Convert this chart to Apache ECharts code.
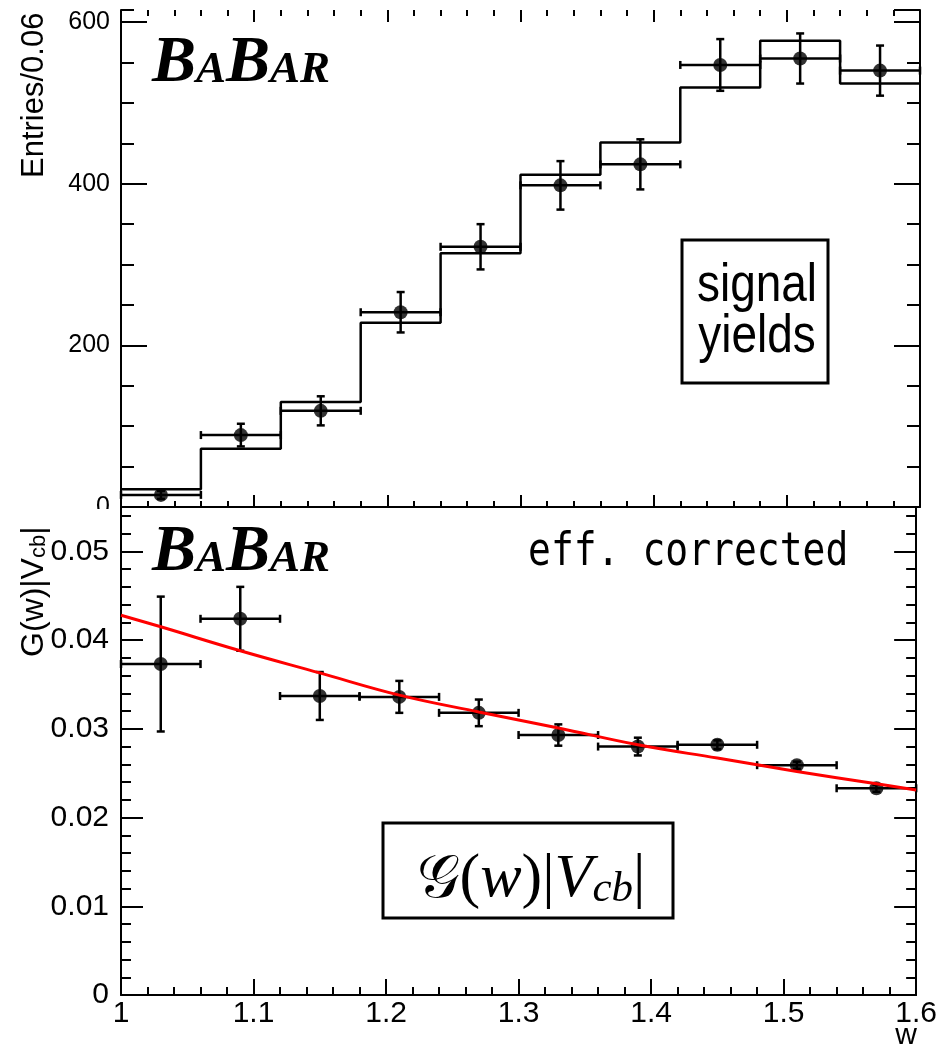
<!DOCTYPE html>
<html>
<head>
<meta charset="utf-8">
<script src="https://cdn.jsdelivr.net/npm/echarts@6/dist/echarts.min.js"></script>
<style>html,body{margin:0;padding:0;background:#fff}#c{width:940px;height:1047px}</style>
</head>
<body>
<div id="c"></div>
<script>
// ---- data ----
const binEdges   = [1.00, 1.06, 1.12, 1.18, 1.24, 1.30, 1.36, 1.42, 1.48, 1.54, 1.60];
const binCenters = [1.03, 1.09, 1.15, 1.21, 1.27, 1.33, 1.39, 1.45, 1.51, 1.57];
// top panel: signal yields (Entries/0.06)
const yieldValues = [15, 89, 119, 241, 322, 398, 424, 547, 555, 540];
const yieldErrors = [5, 14, 18, 25, 28, 30, 31, 32, 31, 31];
const yieldFit    = [22, 72, 130, 228, 314, 411, 451, 519, 577, 524];
// bottom panel: efficiency-corrected G(w)|Vcb|
const gValues = [0.0373, 0.0424, 0.0337, 0.0336, 0.0318, 0.0293, 0.0280, 0.0282, 0.0259, 0.0233];
const gErrors = [0.0076, 0.0036, 0.0027, 0.0018, 0.0015, 0.0012, 0.0010, 0.0005, 0.0004, 0.0004];
// red fit curve, read at several w values
const fitW = [1.00, 1.03, 1.09, 1.15, 1.21, 1.27, 1.33, 1.39, 1.45, 1.51, 1.57, 1.60];
const fitG = [0.0428, 0.0415, 0.0388, 0.0363, 0.0338, 0.0319, 0.0301, 0.0282, 0.0267, 0.0252, 0.0238, 0.0231];
// tick labels
const xTickLabels = ['1', '1.1', '1.2', '1.3', '1.4', '1.5', '1.6'];
const topYTickLabels = ['0', '200', '400', '600'];
const botYTickLabels = ['0', '0.01', '0.02', '0.03', '0.04', '0.05'];

// ---- helpers ----
const stepData = binEdges.map((e, i) => [e, yieldFit[Math.min(i, yieldFit.length - 1)]]);
const yieldBars = binCenters.map((c, i) => [c, yieldValues[i], yieldErrors[i], binEdges[i], binEdges[i + 1]]);
const gBars = binCenters.map((c, i) => [c, gValues[i], gErrors[i], binEdges[i], binEdges[i + 1]]);

function errorBarItem(params, api) {
  const x = api.value(0), y = api.value(1), e = api.value(2), lo = api.value(3), hi = api.value(4);
  const pT = api.coord([x, y + e]), pB = api.coord([x, y - e]);
  const pL = api.coord([lo, y]), pR = api.coord([hi, y]);
  const c = 4;
  const st = () => ({ stroke: '#000', lineWidth: 2.5 });
  return {
    type: 'group',
    children: [
      { type: 'line', shape: { x1: pT[0], y1: pT[1], x2: pB[0], y2: pB[1] }, style: st() },
      { type: 'line', shape: { x1: pL[0], y1: pL[1], x2: pR[0], y2: pR[1] }, style: st() },
      { type: 'line', shape: { x1: pT[0] - c, y1: pT[1], x2: pT[0] + c, y2: pT[1] }, style: st() },
      { type: 'line', shape: { x1: pB[0] - c, y1: pB[1], x2: pB[0] + c, y2: pB[1] }, style: st() },
      { type: 'line', shape: { x1: pL[0], y1: pL[1] - c, x2: pL[0], y2: pL[1] + c }, style: st() },
      { type: 'line', shape: { x1: pR[0], y1: pR[1] - c, x2: pR[0], y2: pR[1] + c }, style: st() }
    ]
  };
}

const FONT = 'Liberation Sans';
const lineBlack = { show: true, onZero: false, lineStyle: { color: '#000', width: 2 } };
const noLine = { show: false, onZero: false };

function xAx(grid, pos, major, minor, labels, showLine) {
  return {
    type: 'value', gridIndex: grid, position: pos, min: 1, max: 1.6, interval: 0.1,
    axisLine: showLine ? lineBlack : noLine,
    axisTick: { show: true, inside: true, length: major, lineStyle: { color: '#000', width: 2 } },
    minorTick: { show: true, splitNumber: 5, length: minor, lineStyle: { color: '#000', width: 2 } },
    splitLine: { show: false }, minorSplitLine: { show: false },
    axisLabel: labels ? {
      show: true, color: '#000', fontFamily: FONT, fontSize: 30, margin: 4,
      formatter: v => { const i = Math.round((v - 1) * 10); return Math.abs(v - (1 + i * 0.1)) < 1e-6 ? (xTickLabels[i] || '') : ''; }
    } : { show: false }
  };
}
function yAx(grid, pos, max, interval, tickLen, labels, showLine) {
  return {
    type: 'value', gridIndex: grid, position: pos, min: 0, max: max, interval: interval,
    axisLine: showLine ? lineBlack : noLine,
    axisTick: { show: true, inside: true, length: tickLen, lineStyle: { color: '#000', width: 2 } },
    splitLine: { show: false },
    axisLabel: labels ? Object.assign({ show: true, color: '#000', fontFamily: FONT, showMaxLabel: false }, labels) : { show: false }
  };
}

// BABAR logo: large B's, small-cap A / AR, aligned on a common baseline
function logo(x0, baseline) {
  const big = { fontFamily: 'Liberation Serif', fontWeight: 'bold', fontStyle: 'italic', fontSize: 66, fill: '#000', align: 'left', verticalAlign: 'middle' };
  const small = Object.assign({}, big, { fontSize: 45 });
  const yb = baseline - 0.29 * 66, ys = baseline - 0.29 * 45;
  return [
    { type: 'text', x: x0, y: yb, z: 100, style: Object.assign({ text: 'B' }, big) },
    { type: 'text', x: x0 + 44, y: ys, z: 100, style: Object.assign({ text: 'A' }, small) },
    { type: 'text', x: x0 + 74, y: yb, z: 100, style: Object.assign({ text: 'B' }, big) },
    { type: 'text', x: x0 + 118, y: ys, z: 100, style: Object.assign({ text: 'AR' }, small) }
  ];
}

const chart = echarts.init(document.getElementById('c'), null, { renderer: 'canvas' });
chart.setOption({
  animation: false,
  backgroundColor: '#fff',
  grid: [
    { left: 121, right: 20, top: 10, height: 497, show: false },
    { left: 121, right: 20, top: 507, height: 488, show: false }
  ],
  xAxis: [
    xAx(0, 'bottom', 12, 6, false, true),
    xAx(0, 'top', 12, 6, false, false),
    xAx(1, 'bottom', 16, 8, true, true)
  ],
  yAxis: [
    yAx(0, 'left', 615, 200, 26, {
      fontSize: 25, margin: 11,
      formatter: v => { const i = Math.round(v / 200); return Math.abs(v - i * 200) < 1e-6 ? (topYTickLabels[i] || '') : ''; }
    }, true),
    yAx(0, 'left', 615, 50, 13, null, false),
    yAx(0, 'right', 615, 200, 26, null, true),
    yAx(0, 'right', 615, 50, 13, null, false),
    yAx(1, 'left', 0.055, 0.01, 22, {
      fontSize: 30, margin: 12,
      formatter: v => { const i = Math.round(v / 0.01); return Math.abs(v - i * 0.01) < 1e-9 ? (botYTickLabels[i] || '') : ''; }
    }, true),
    yAx(1, 'left', 0.055, 0.002, 10, null, false),
    yAx(1, 'right', 0.055, 0.01, 22, null, true),
    yAx(1, 'right', 0.055, 0.002, 10, null, false)
  ],
  series: [
    {
      type: 'line', xAxisIndex: 0, yAxisIndex: 0, step: 'end', data: stepData,
      symbol: 'none', lineStyle: { color: '#000', width: 2.5 }, z: 2
    },
    {
      type: 'custom', xAxisIndex: 0, yAxisIndex: 0, data: yieldBars,
      encode: { x: 0, y: 1 }, renderItem: errorBarItem, z: 3
    },
    {
      type: 'scatter', xAxisIndex: 0, yAxisIndex: 0,
      data: binCenters.map((c, i) => [c, yieldValues[i]]),
      symbol: 'circle', symbolSize: 14, itemStyle: { color: '#000' }, z: 4
    },
    {
      type: 'custom', xAxisIndex: 2, yAxisIndex: 4, data: gBars,
      encode: { x: 0, y: 1 }, renderItem: errorBarItem, z: 3
    },
    {
      type: 'scatter', xAxisIndex: 2, yAxisIndex: 4,
      data: binCenters.map((c, i) => [c, gValues[i]]),
      symbol: 'circle', symbolSize: 14, itemStyle: { color: '#000' }, z: 4
    },
    {
      type: 'line', xAxisIndex: 2, yAxisIndex: 4, smooth: 0.4,
      data: fitW.map((w, i) => [w, fitG[i]]),
      symbol: 'none', lineStyle: { color: '#ff0000', width: 3 }, z: 5
    }
  ],
  graphic: [
    // hide lower half of the top panel's "0" label
    { type: 'rect', z: 100, shape: { x: 60, y: 509, width: 58, height: 18 }, style: { fill: '#fff' } },
    // BABAR logos
    ...logo(152, 83),
    ...logo(152, 572),
    // eff. corrected
    {
      type: 'text', x: 528, y: 553, scaleY: 1.2, z: 100,
      style: { text: 'eff. corrected', fontFamily: 'DejaVu Sans Mono', fontSize: 38, fill: '#000', align: 'left', verticalAlign: 'middle' }
    },
    // signal yields box
    { type: 'rect', z: 100, shape: { x: 682, y: 240, width: 146, height: 143 }, style: { fill: 'none', stroke: '#000', lineWidth: 3 } },
    {
      type: 'text', x: 757, y: 312, scaleY: 1.15, z: 100,
      style: { text: 'signal\nyields', fontFamily: FONT, fontSize: 46, lineHeight: 44, fill: '#000', align: 'center', verticalAlign: 'middle' }
    },
    // G(w)|Vcb| box
    { type: 'rect', z: 100, shape: { x: 383, y: 823, width: 290, height: 95 }, style: { fill: 'none', stroke: '#000', lineWidth: 3 } },
    {
      type: 'text', x: 531, y: 880, z: 100,
      style: {
        text: '{g|𝒢}{n|(}{i|w}{n|)|}{i|V}{s|cb}{n||}', align: 'center', verticalAlign: 'middle',
        rich: {
          g: { fontFamily: 'DejaVu Serif', fontSize: 60, lineHeight: 62, verticalAlign: 'bottom', fill: '#000' },
          n: { fontFamily: 'Liberation Serif', fontSize: 62, lineHeight: 62, verticalAlign: 'bottom', fill: '#000' },
          i: { fontFamily: 'Liberation Serif', fontStyle: 'italic', fontSize: 62, lineHeight: 62, verticalAlign: 'bottom', fill: '#000' },
          s: { fontFamily: 'Liberation Serif', fontStyle: 'italic', fontSize: 43, lineHeight: 26, verticalAlign: 'bottom', fill: '#000' }
        }
      }
    },
    // axis titles
    {
      type: 'text', x: 34, y: 178, rotation: Math.PI / 2, z: 100,
      style: { text: 'Entries/0.06', fontFamily: FONT, fontSize: 31, fill: '#000', align: 'left', verticalAlign: 'middle' }
    },
    {
      type: 'text', x: 34, y: 657, rotation: Math.PI / 2, z: 100,
      style: {
        text: '{n|G(w)|V}{s|cb}{n||}', align: 'left', verticalAlign: 'middle',
        rich: {
          n: { fontFamily: FONT, fontSize: 32, lineHeight: 32, verticalAlign: 'bottom', fill: '#000' },
          s: { fontFamily: FONT, fontSize: 22, lineHeight: 9, verticalAlign: 'bottom', fill: '#000' }
        }
      }
    },
    {
      type: 'text', x: 906, y: 1036, z: 100,
      style: { text: 'w', fontFamily: FONT, fontSize: 30, fill: '#000', align: 'center', verticalAlign: 'middle' }
    }
  ]
});
</script>
</body>
</html>
